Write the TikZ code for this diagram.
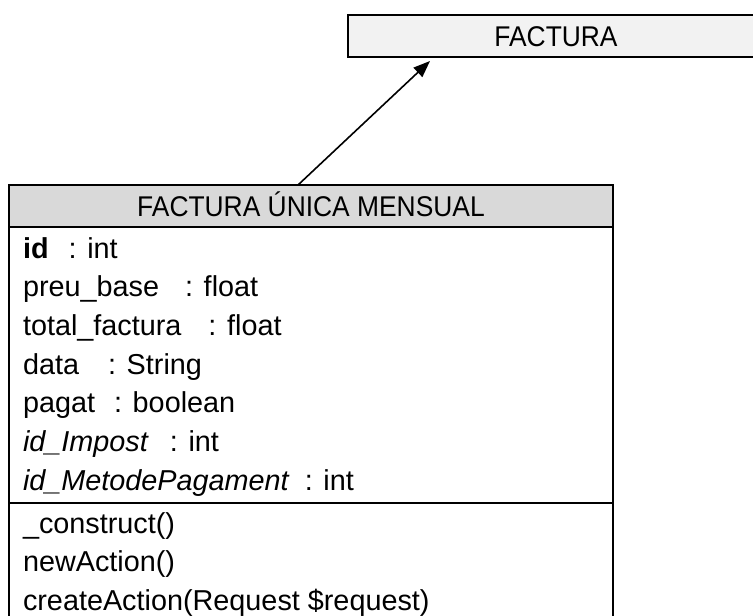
\documentclass[tikz,border=0pt]{standalone}
\usepackage{fontspec}
\setmainfont{Liberation Sans}
\newfontfamily\narrowfont[FakeStretch=0.925]{Liberation Sans}
\usetikzlibrary{arrows.meta}
\definecolor{factfill}{HTML}{F2F2F2}
\definecolor{headfill}{HTML}{D9D9D9}

\begin{document}
\begin{tikzpicture}[x=0.75pt,y=-0.75pt,
  every node/.style={inner sep=0pt, outer sep=0pt},
  boxline/.style={line width=1.8pt},
  titlebox/.style={draw, boxline, rectangle,
    font=\narrowfont\fontsize{21.4pt}{24pt}\selectfont,
    text height=15.3pt, text depth=0pt, align=center},
  classbody/.style={draw, boxline, rectangle, fill=white},
  member/.style={anchor=base west, font=\fontsize{21.6pt}{24pt}\selectfont},
  genarrow/.style={line width=1.2pt, -{Triangle[length=12.5pt,width=9.5pt]}}
]
\useasboundingbox (0,0) rectangle (753,615);
\clip (0,0) rectangle (753,615);

% parent class (runs past the right edge)
\node[titlebox, fill=factfill, minimum width=312pt, minimum height=31.5pt]
  (fact) at (556,36) {FACTURA};

% child class: title bar and member compartment
\node[titlebox, fill=headfill, minimum width=453pt, minimum height=31.5pt]
  (head) at (311,206) {FACTURA ÚNICA MENSUAL};
\node[classbody, minimum width=453pt, minimum height=354.75pt, anchor=north]
  (body) at (head.south) {};

% attributes
\node[member] (a1) at (23,258)   {\textbf{id}\hspace{15pt}: int};
\node[member] (a2) at (23,296.7) {preu\_base\hspace{19.5pt}: float};
\node[member] (a3) at (23,335.3) {total\_factura\hspace{20.25pt}: float};
\node[member] (a4) at (23,374)   {data\hspace{21.75pt}: String};
\node[member] (a5) at (23,412.7) {pagat\hspace{14.25pt}: boolean};
\node[member] (a6) at (23,451.3) {\textit{id\_Impost}\hspace{15.75pt}: int};
\node[member] (a7) at (23,490)   {\textit{id\_MetodePagament}\hspace{11.25pt}: int};

% compartment separator
\coordinate (sepy) at (0,503);
\draw[boxline] (body.west |- sepy) -- (body.east |- sepy);

% operations
\node[member] (m1) at (23,533)   {\_construct()};
\node[member] (m2) at (23,571.5) {newAction()};
\node[member] (m3) at (23,610)   {createAction(Request \$request)};

% generalisation
\coordinate (gfrom) at (298,185);
\coordinate (gto) at (430,61);
\draw[genarrow] (gfrom) -- (gto);
\end{tikzpicture}
\end{document}
